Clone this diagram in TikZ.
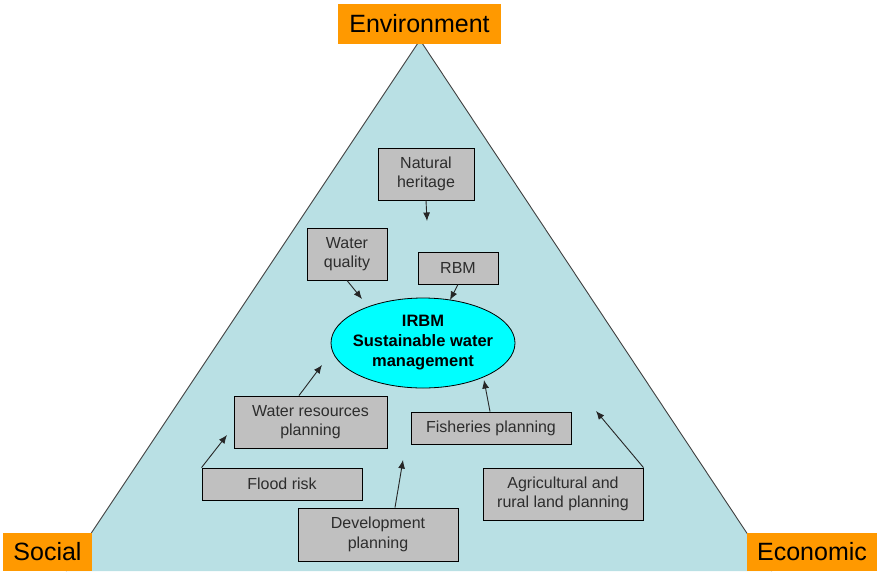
\documentclass[tikz,border=0pt]{standalone}
\usepackage{fontspec}
\setmainfont{Liberation Sans}
\usetikzlibrary{arrows.meta,shapes.geometric,calc}
\definecolor{tri}{RGB}{185,224,228}
\definecolor{orng}{RGB}{255,153,0}
\definecolor{boxg}{RGB}{192,192,192}
\definecolor{txtg}{RGB}{45,45,45}
\definecolor{cyn}{RGB}{0,255,255}
\tikzset{
  corner/.style={fill=orng,draw=none,inner sep=0pt,font=\fontsize{25}{28}\selectfont,text=black},
  topic/.style={fill=boxg,draw=black,line width=0.9pt,inner sep=0pt,align=center,
    font=\fontsize{16}{19.5}\selectfont,text=txtg},
  hub/.style={ellipse,fill=cyn,draw=black,line width=0.8pt,inner xsep=-6pt,inner ysep=0pt,align=center,
    font=\bfseries\fontsize{16.5}{20}\selectfont,text=black},
  link/.style={draw=black!85,line width=0.9pt,-{Latex[length=8.5pt,width=7pt]}}
}
\begin{document}
\begin{tikzpicture}[x=1pt,y=-1pt]
\useasboundingbox (0,0) rectangle (877,571);
% triangle
\coordinate (apex) at (420,40);
\coordinate (bl) at (66,571);
\coordinate (br) at (772,571);
\fill[tri] (apex) -- (bl) -- (br) -- cycle;
\draw[black!75,line width=0.9pt] (bl) -- (apex) -- (br);
% corner labels
\node[corner,minimum width=163pt,minimum height=40pt] (env) at (419.5,24) {Environment};
\node[corner,minimum width=89pt,minimum height=38pt] (soc) at (47.5,552) {Social};
\node[corner,minimum width=130pt,minimum height=38pt] (eco) at (812,552) {Economic};
% hub
\node[hub,minimum width=184pt,minimum height=90pt] (irbm) at (423,343) {IRBM\\Sustainable water\\management};
% topic boxes
\node[topic,minimum width=96pt,minimum height=52pt] (nat) at (426,174) {Natural\\heritage};
\node[topic,minimum width=80pt,minimum height=52pt] (wq) at (347,254) {Water\\quality};
\node[topic,minimum width=80pt,minimum height=32pt] (rbm) at (458,268) {RBM};
\node[topic,minimum width=153pt,minimum height=52pt] (wrp) at (310.5,422) {Water resources\\planning};
\node[topic,minimum width=160pt,minimum height=32pt] (flood) at (282,484) {Flood risk};
\node[topic,minimum width=160pt,minimum height=32pt] (fish) at (491,428) {Fisheries planning};
\node[topic,minimum width=160pt,minimum height=52pt] (agri) at (563,494) {Agricultural and\\rural land planning};
\node[topic,minimum width=160pt,minimum height=53pt] (dev) at (378,534.5) {Development\\planning};
% arrow ends
\coordinate (natE) at (427,221);
\coordinate (wqE) at (362,299);
\coordinate (rbmE) at (450,300);
\coordinate (wrpE) at (322,365);
\coordinate (floodE) at (227,435);
\coordinate (fishE) at (484,380);
\coordinate (agriE) at (596,411);
\coordinate (devE) at (403,460);
% connectors
\draw[link] (nat.south) -- (natE);
\draw[link] (wq.south) -- (wqE);
\draw[link] (rbm.south) -- (rbmE);
\draw[link] ($(wrp.north)+(-11.5,0)$) -- (wrpE);
\draw[link] (flood.north west) -- (floodE);
\draw[link] ($(fish.north)+(-1,0)$) -- (fishE);
\draw[link] (agri.north east) -- (agriE);
\draw[link] ($(dev.north)+(17,0)$) -- (devE);
\end{tikzpicture}
\end{document}
